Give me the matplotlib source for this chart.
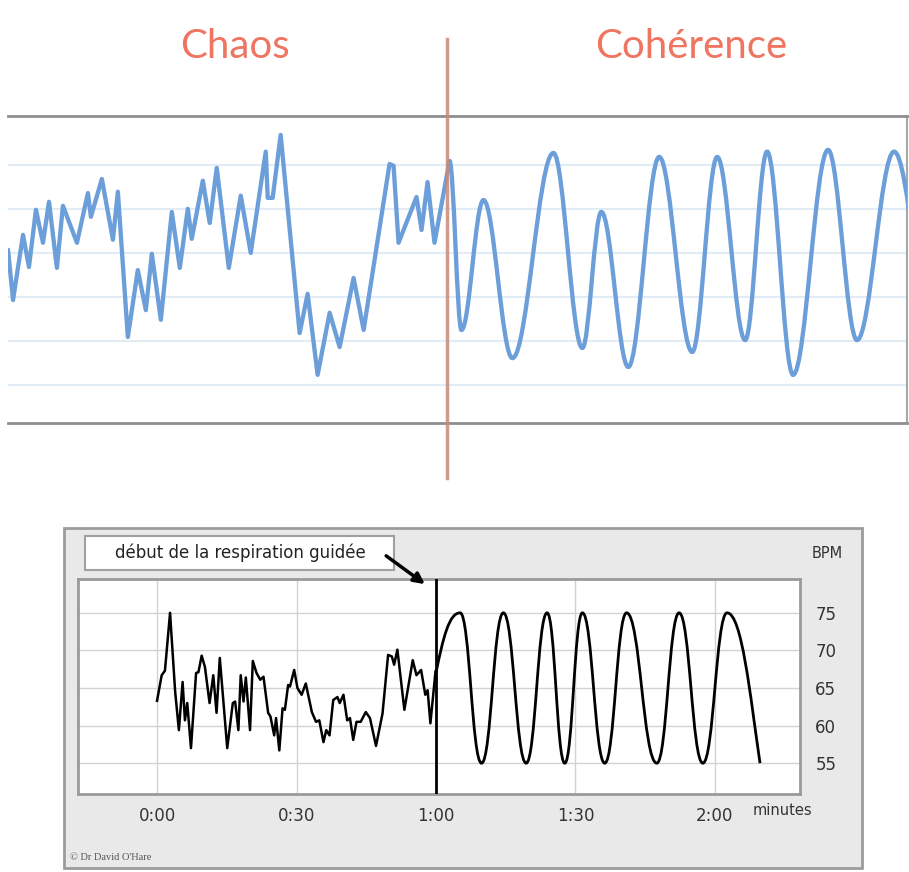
import matplotlib.pyplot as plt
from matplotlib.patches import Rectangle, PathPatch
from matplotlib.path import Path

# --- top chart (no scale shown: time 0-100, level units) ---
top_chaos_t = [0.0, 0.56, 1.67, 2.33, 3.11, 3.89, 4.56, 5.44, 6.11, 7.67, 8.89, 9.22,
               10.44, 11.67, 12.22, 13.33, 14.44, 15.33, 16.0, 17.0, 18.22, 19.11, 20.0,
               20.44, 21.67, 22.44, 23.22, 24.56, 25.89, 27.0, 28.67, 28.89, 29.44, 30.33,
               32.44, 33.33, 34.44, 35.78, 36.89, 38.44, 39.56, 42.44, 42.89, 43.44, 45.44,
               46.0, 46.67, 47.44, 49.11]
top_chaos_v = [3.07, 1.93, 3.41, 2.68, 3.98, 3.23, 4.16, 2.66, 4.07, 3.23, 4.36, 3.82,
               4.68, 3.30, 4.39, 1.09, 2.61, 1.70, 2.98, 1.48, 3.93, 2.66, 4.0,
               3.32, 4.64, 3.68, 4.93, 2.66, 4.30, 3.0, 5.30, 4.25, 4.25, 5.68,
               1.18, 2.07, 0.23, 1.64, 0.86, 2.43, 1.25, 5.02, 4.98, 3.23, 4.27,
               3.52, 4.61, 3.23, 5.09]
# extrema of the coherent part
top_coh_t = [49.11, 50.44, 52.89, 56.11, 60.67, 63.89, 66.0, 69.0, 72.44, 76.11, 78.89,
             82.0, 84.44, 87.33, 91.22, 94.44, 98.56, 103.0]
top_coh_v = [5.09, 1.25, 4.20, 0.61, 5.27, 0.84, 3.93, 0.41, 5.18, 0.75, 5.18,
             1.02, 5.30, 0.23, 5.34, 1.02, 5.30, 1.0]
top_grid = [0, 1, 2, 3, 4, 5]
switch_top = 48.8

# --- bottom chart (seconds, BPM) ---
chaos_s = [0.0, 1.0, 1.7, 2.8, 3.9, 4.7, 5.5, 6.0, 6.5, 7.3, 8.4, 8.9, 9.6, 10.3, 11.3,
           12.1, 12.8, 13.5, 15.1, 16.3, 16.8, 17.5, 18.0, 18.6, 19.1, 20.0, 20.6, 21.4,
           22.2, 22.9, 23.9, 24.4, 25.2, 25.6, 26.3, 27.0, 27.5, 28.2, 28.6, 29.5, 30.2,
           31.1, 32.0, 33.3, 34.2, 34.9, 35.8, 36.4, 37.1, 37.9, 38.8, 39.3, 40.1, 40.9,
           41.5, 42.2, 42.9, 43.8, 44.9, 45.8, 47.1, 48.5, 49.7, 50.5, 51.0, 51.7, 53.2,
           55.0, 55.8, 56.8, 57.7, 58.2, 58.8, 59.9]
chaos_bpm = [63.3, 66.7, 67.3, 75.0, 64.5, 59.4, 65.8, 60.7, 63.0, 57.0, 67.0, 67.1, 69.3,
             67.8, 63.0, 66.7, 61.7, 69.0, 57.0, 63.0, 63.2, 59.4, 66.7, 63.2, 66.4, 59.4,
             68.6, 67.0, 66.1, 66.5, 61.7, 61.2, 58.7, 61.0, 56.7, 62.3, 62.1, 65.4, 65.2,
             67.4, 65.0, 64.1, 65.6, 61.8, 60.5, 60.7, 57.8, 59.4, 58.7, 63.4, 63.8, 63.0,
             64.1, 60.7, 61.0, 58.1, 60.5, 60.5, 61.8, 61.0, 57.3, 61.6, 69.4, 69.2, 68.1,
             70.1, 62.1, 68.7, 66.7, 67.4, 64.1, 64.7, 60.3, 67.2]
coh_s = [60.0, 65.2, 69.8, 74.5, 79.4, 83.9, 87.7, 91.5, 96.3, 101.0, 107.5, 112.3,
         117.4, 122.6, 129.7]
coh_bpm = [67.0, 75, 55, 75, 55, 75, 55, 75, 55, 75, 55, 75, 55, 75, 55]
xticks = [0, 30, 60, 90, 120]
xticklabels = ['0:00', '0:30', '1:00', '1:30', '2:00']
yticks = [55, 60, 65, 70, 75]


def smooth_path(xs, ys, start_slope=False, end_slope=False, k=0.364):
    # cubic Bezier through extrema, flat tangents at the turning points
    verts = [(xs[0], ys[0])]
    codes = [Path.MOVETO]
    n = len(xs) - 1
    for i in range(n):
        x0, y0, x1, y1 = xs[i], ys[i], xs[i + 1], ys[i + 1]
        dx = x1 - x0
        c1 = (x0 + k * dx, y0)
        c2 = (x1 - k * dx, y1)
        if start_slope and i == 0:
            c1 = (x0 + 0.3 * dx, y0 + 0.6 * (y1 - y0))
        if end_slope and i == n - 1:
            c2 = (x1 - 0.3 * dx, y1 + 0.45 * (y0 - y1))
        verts += [c1, c2, (x1, y1)]
        codes += [Path.CURVE4] * 3
    return Path(verts, codes)


fig = plt.figure(figsize=(9.09, 8.72), dpi=100)
W, H = 909, 872

# ---------------- top chart ----------------
ax1 = fig.add_axes([8 / W, 1 - 423 / H, 899 / W, 307 / H])
ax1.set_xlim(0, 100)
ax1.set_ylim(-0.864, 6.11)
for g in top_grid:
    ax1.axhline(g, color='#e2ecf7', lw=1.5, zorder=0)
blue = '#6c9fd9'
ax1.plot(top_chaos_t, top_chaos_v, color=blue, lw=3.1, solid_joinstyle='round',
         solid_capstyle='round', zorder=3)
ax1.add_patch(PathPatch(smooth_path(top_coh_t, top_coh_v), fill=False,
                        edgecolor=blue, lw=3.1, zorder=3))
ax1.axvline(switch_top, ymin=-0.18, ymax=1.25, color='#c98a78', lw=2.5,
            alpha=0.85, clip_on=False, zorder=4)
ax1.set_xticks([])
ax1.set_yticks([])
ax1.spines['left'].set_visible(False)
for s in ['top', 'bottom']:
    ax1.spines[s].set_color('#8e8e8e')
    ax1.spines[s].set_linewidth(2)
ax1.spines['right'].set_color('#a8a8a8')
ax1.spines['right'].set_linewidth(1.5)

fig.text(235 / W, 1 - 46 / H, 'Chaos', ha='center', va='center', fontsize=29,
         family='Lato', color='#ef7561')
fig.text(691 / W, 1 - 46 / H, 'Cohérence', ha='center', va='center', fontsize=29,
         family='Lato', color='#ef7561')

# ---------------- bottom chart ----------------
fig.patches.append(Rectangle((64 / W, 1 - 868 / H), (862 - 64) / W, (868 - 528) / H,
                             transform=fig.transFigure, facecolor='#e9e9e9',
                             edgecolor='#9c9c9c', lw=2, zorder=-2))
ax2 = fig.add_axes([78 / W, 1 - 794 / H, 722 / W, 215 / H])
ax2.set_facecolor('white')
ax2.set_xlim(-17, 138.3)
ax2.set_ylim(50.9, 79.5)
ax2.set_xticks(xticks)
ax2.set_xticklabels(xticklabels)
ax2.set_yticks(yticks)
ax2.yaxis.tick_right()
ax2.tick_params(axis='both', length=0, labelsize=12, colors='#333333')
ax2.tick_params(axis='x', pad=9)
ax2.tick_params(axis='y', pad=11)
ax2.grid(True, color='#d2d2d2', lw=1)
ax2.set_axisbelow(True)
for s in ax2.spines.values():
    s.set_color('#9a9a9a')
    s.set_linewidth(2)

ax2.plot(chaos_s, chaos_bpm, color='black', lw=1.8, zorder=3)
ax2.add_patch(PathPatch(smooth_path(coh_s, coh_bpm, start_slope=True, end_slope=True,
                                    k=0.45),
                        fill=False, edgecolor='black', lw=2, zorder=3))
ax2.axvline(60, color='black', lw=2, zorder=4)

ax2.text(0.976, -0.079, 'minutes', transform=ax2.transAxes, ha='center', va='center',
         fontsize=10.5, color='#333333')
ax2.text(1.038, 1.12, 'BPM', transform=ax2.transAxes, ha='center', va='center',
         fontsize=10.5, color='#333333')

fig.patches.append(Rectangle((85 / W, 1 - 570 / H), (394 - 85) / W, (570 - 536) / H,
                             transform=fig.transFigure, facecolor='white',
                             edgecolor='#a0a0a0', lw=1.5, zorder=-1))
fig.text(240 / W, 1 - 553 / H, 'début de la respiration guidée', ha='center', va='center',
         fontsize=12, color='#222222')
ax2.annotate('', xy=(58.1, 78.6), xytext=(48.8, 82.8), annotation_clip=False,
             arrowprops=dict(arrowstyle='-|>', lw=2.5, color='black', mutation_scale=16))

fig.text(70 / W, 1 - 857 / H, "© Dr David O'Hare", family='Liberation Serif',
         fontsize=7.5, color='#555555', va='center')

fig.savefig('out.png', dpi=100, facecolor='white')
